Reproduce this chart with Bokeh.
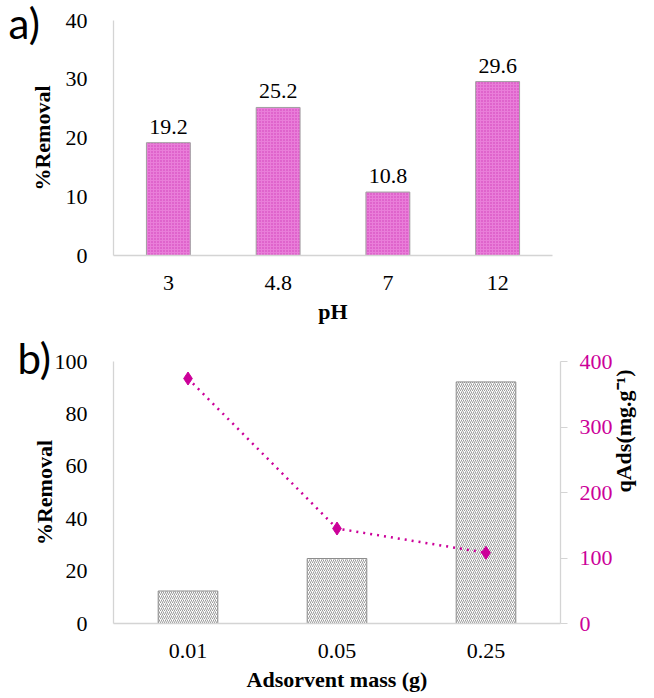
import math
from bokeh.plotting import figure
from bokeh.layouts import column
from bokeh.models import (FactorRange, Range1d, LinearAxis, FixedTicker,
                          ColumnDataSource, LabelSet, Label)
from bokeh.embed import file_html
from bokeh.resources import INLINE

# ---- data: panel a ----
ph_levels = ["3", "4.8", "7", "12"]
removal_ph = [19.2, 25.2, 10.8, 29.6]
removal_ph_labels = ["19.2", "25.2", "10.8", "29.6"]
yticks_a = [0, 10, 20, 30, 40]

# ---- data: panel b ----
mass_levels = ["0.01", "0.05", "0.25"]
removal_mass = [12.4, 24.8, 92.2]
qads = [374, 145, 108]
yticks_b_left = [0, 20, 40, 60, 80, 100]
yticks_b_right = [0, 100, 200, 300, 400]

SERIF = "Liberation Serif"
AXIS_GREY = "#D4D4D4"
MAGENTA = "#CC0099"


def style_common(p):
    p.grid.visible = False
    p.outline_line_color = None
    p.background_fill_color = "white"
    p.border_fill_color = "white"
    for ax in p.axis:
        ax.axis_line_color = AXIS_GREY
        ax.axis_line_width = 1.3
        ax.major_tick_line_color = None
        ax.minor_tick_line_color = None
        ax.major_label_text_font = SERIF
        ax.major_label_text_font_size = "22px"
        ax.major_label_text_color = "#000000"
        ax.axis_label_text_font = SERIF
        ax.axis_label_text_font_size = "22px"
        ax.axis_label_text_font_style = "bold"
        ax.axis_label_text_color = "#000000"


# ================= panel a =================
src_a = ColumnDataSource(dict(ph=ph_levels, rem=removal_ph, lab=removal_ph_labels))
p1 = figure(x_range=FactorRange(*ph_levels), y_range=Range1d(0, 40),
            width=645, height=327,
            min_border_left=113, min_border_right=66,
            min_border_top=20, min_border_bottom=72,
            output_backend="svg", toolbar_location=None)
p1.vbar(x="ph", top="rem", width=0.4, source=src_a,
        fill_color="#E97ED9", line_color="#A0A0A0", line_width=1,
        hatch_pattern="dot", hatch_color="#D03AB8", hatch_scale=3, hatch_weight=1)
p1.add_layout(LabelSet(x="ph", y="rem", text="lab", source=src_a,
                       text_align="center", text_baseline="middle", y_offset=16,
                       text_font=SERIF, text_font_size="22px", text_color="#000000"))
p1.yaxis.ticker = FixedTicker(ticks=yticks_a)
p1.xaxis.axis_label = "pH"
p1.yaxis.axis_label = "%Removal"
style_common(p1)
p1.yaxis.major_label_standoff = 20
p1.yaxis.axis_label_standoff = 8
p1.xaxis.major_label_standoff = 14
p1.xaxis.axis_label_standoff = 6
p1.add_layout(Label(x=8, y=22, x_units="canvas", y_units="canvas", text="a)",
                    text_font="Lato", text_font_size="42px",
                    text_align="left", text_baseline="middle", text_color="#000000"), "right")

# ================= panel b =================
src_b = ColumnDataSource(dict(m=mass_levels, rem=removal_mass, q=qads))
p2 = figure(x_range=FactorRange(*mass_levels), y_range=Range1d(0, 100),
            width=653, height=368, title="b)",
            min_border_left=109, min_border_right=93,
            min_border_top=34, min_border_bottom=72,
            output_backend="svg", toolbar_location=None)
p2.title.text_font = "Lato"
p2.title.text_font_size = "42px"
p2.title.text_font_style = "normal"
p2.title.text_color = "#000000"
p2.title.align = "left"
p2.title.offset = -96
p2.title.standoff = -43
p2.extra_y_ranges = {"q": Range1d(0, 400)}
p2.vbar(x="m", top="rem", width=0.4, source=src_b,
        fill_color="white", line_color="#8C8C8C", line_width=1,
        hatch_pattern="right_diagonal_line", hatch_color="#808080",
        hatch_scale=4, hatch_weight=0.8)
p2.line(x="m", y="q", source=src_b, y_range_name="q",
        line_color=MAGENTA, line_width=2.5, line_dash="2 5")
p2.scatter(x="m", y="q", source=src_b, y_range_name="q", marker="diamond",
           size=13, fill_color=MAGENTA, line_color=MAGENTA)
right_ax = LinearAxis(y_range_name="q", ticker=FixedTicker(ticks=yticks_b_right),
                      axis_label="qAds(mg.g\u207b\u00b9)")
p2.add_layout(right_ax, "right")
p2.yaxis[0].ticker = FixedTicker(ticks=yticks_b_left)
p2.xaxis.axis_label = "Adsorvent mass (g)"
p2.yaxis[0].axis_label = "%Removal"
style_common(p2)
p2.yaxis[0].major_label_standoff = 20
p2.yaxis[0].axis_label_standoff = -5
p2.xaxis.major_label_standoff = 14
p2.xaxis.axis_label_standoff = 6
right_ax.major_tick_line_color = AXIS_GREY
right_ax.major_tick_out = 7
right_ax.major_tick_in = 0
right_ax.major_label_standoff = 12
right_ax.major_label_text_color = MAGENTA
right_ax.axis_label_standoff = 8
right_ax.axis_label_text_line_height = 1.0
right_ax.axis_label_orientation = math.pi / 2

layout = column(p1, p2, spacing=0)
open("out.html", "w").write(file_html(layout, INLINE))
